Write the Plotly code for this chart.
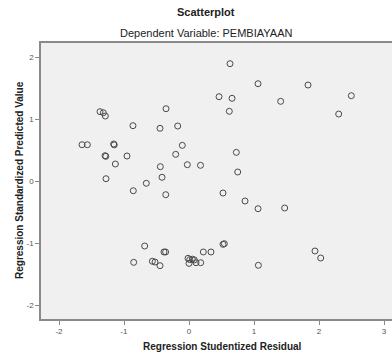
import plotly.graph_objects as go

# Regression Studentized Residual (x) and Regression Standardized Predicted Value (y)
studentized_residual = [
    -1.369, -1.318, -1.287, -0.354, -0.862, -0.446, -0.174, -1.646, -1.564, -1.159,
    -1.150, -0.103, -1.292, -1.280, -0.954, -0.205, -1.133, -0.441, -0.026, 0.177,
    -0.415, -1.277, -0.657, -0.857, -0.358, -0.682, -0.851, -0.564, -0.523, -0.446,
    -0.385, -0.360, -0.015, 0.011, 0.051, 0.082, 0.000, 0.108, 0.180, 0.220,
    0.338, 0.523, 0.544, 1.067, 1.938, 2.026, 0.523, 0.862, 1.062, 1.472,
    0.631, 1.062, 1.831, 0.462, 0.662, 1.410, 2.497, 0.620, 2.303, 0.728,
    0.749,
]
standardized_predicted = [
    1.123, 1.106, 1.053, 1.171, 0.897, 0.855, 0.892, 0.590, 0.590, 0.602,
    0.588, 0.580, 0.413, 0.403, 0.408, 0.435, 0.279, 0.236, 0.268, 0.258,
    0.065, 0.042, -0.032, -0.152, -0.216, -1.044, -1.307, -1.290, -1.302, -1.361,
    -1.140, -1.140, -1.242, -1.263, -1.256, -1.268, -1.324, -1.313, -1.313, -1.140,
    -1.140, -1.016, -1.006, -1.355, -1.124, -1.237, -0.189, -0.318, -0.442, -0.431,
    1.897, 1.574, 1.553, 1.365, 1.339, 1.290, 1.381, 1.129, 1.085, 0.467,
    0.150,
]
x_ticks = [-2, -1, 0, 1, 2, 3]
y_ticks = [-2, -1, 0, 1, 2]

title_text = "Scatterplot"
subtitle_text = "Dependent Variable: PEMBIAYAAN"
x_title = "Regression Studentized Residual"
y_title = "Regression Standardized Predicted Value"

FONT = "Liberation Sans, Arial, sans-serif"

fig = go.Figure()
fig.add_trace(go.Scatter(
    x=studentized_residual, y=standardized_predicted, mode="markers",
    marker=dict(symbol="circle-open", size=6, color="#4a4a4a", line=dict(width=1, color="#4a4a4a")),
    showlegend=False, hoverinfo="x+y",
))

fig.update_layout(
    width=392, height=355,
    margin=dict(l=41, r=0, t=43, b=36),
    paper_bgcolor="white", plot_bgcolor="#F0F0F0",
    font=dict(family=FONT, color="#222222"),
    xaxis=dict(
        range=[-2.277, 3.123], tickvals=x_ticks, ticktext=[str(v) for v in x_ticks],
        showgrid=False, zeroline=False, showline=True, mirror=True,
        linecolor="#8a8a8a", linewidth=1.5, ticks="outside", ticklen=4, tickcolor="#8a8a8a",
        tickfont=dict(size=8, color="#555555", family=FONT),
    ),
    yaxis=dict(
        range=[-2.221, 2.231], tickvals=y_ticks, ticktext=[str(v) for v in y_ticks],
        showgrid=False, zeroline=False, showline=True, mirror=False,
        linecolor="#8a8a8a", linewidth=1.5, ticks="outside", ticklen=4, tickcolor="#8a8a8a",
        tickfont=dict(size=8, color="#555555", family=FONT),
    ),
    annotations=[
        dict(text="<b>" + title_text + "</b>", xref="paper", yref="paper",
             x=(206 - 41) / 351, y=1 + (43 - 12) / 276, xanchor="center", yanchor="middle",
             showarrow=False, font=dict(size=11, color="#222222", family=FONT)),
        dict(text=subtitle_text, xref="paper", yref="paper",
             x=(206 - 41) / 351, y=1 + (43 - 33) / 276, xanchor="center", yanchor="middle",
             showarrow=False, font=dict(size=11, color="#222222", family=FONT)),
        dict(text="<b>" + x_title + "</b>", xref="paper", yref="paper",
             x=(222 - 41) / 351, y=-(346 - 319) / 276, xanchor="center", yanchor="middle",
             showarrow=False, font=dict(size=10, color="#222222", family=FONT)),
        dict(text="<b>" + y_title + "</b>", xref="paper", yref="paper",
             x=-(41 - 19) / 351, y=(319 - 180) / 276, xanchor="center", yanchor="middle",
             textangle=-90, showarrow=False, font=dict(size=10, color="#222222", family=FONT)),
    ],
)

fig.write_html(
    "out.html",
    config={"displayModeBar": False},
    post_script="document.body.style.margin='0';document.body.style.overflow='hidden';",
)
